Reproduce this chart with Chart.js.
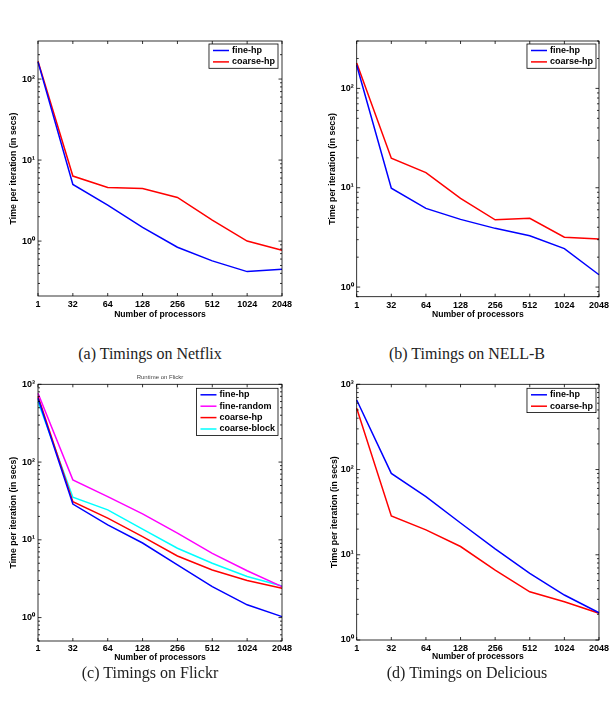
<!DOCTYPE html>
<html>
<head>
<meta charset="utf-8">
<script src="https://cdn.jsdelivr.net/npm/chart.js@4.4.1/dist/chart.umd.min.js"></script>
<style>
  body { margin: 0; background: #fff; }
  #page { position: relative; width: 612px; height: 704px; background: #fff; }
  canvas { position: absolute; }
  .cap { position: absolute; width: 300px; text-align: center; font-family: "Liberation Serif", serif; font-size: 16px; color: #222; }
</style>
</head>
<body>
<div id="page">
  <canvas id="netflix" width="300" height="290" style="left:0;top:30px"></canvas>
  <canvas id="nell" width="312" height="290" style="left:300px;top:30px"></canvas>
  <canvas id="flickr" width="300" height="292" style="left:0;top:373px"></canvas>
  <canvas id="delicious" width="312" height="292" style="left:300px;top:373px"></canvas>
  <div class="cap" style="left:0;top:345px">(a) Timings on Netflix</div>
  <div class="cap" style="left:317px;top:345px">(b) Timings on NELL-B</div>
  <div class="cap" style="left:0;top:664px">(c) Timings on Flickr</div>
  <div class="cap" style="left:317px;top:664px">(d) Timings on Delicious</div>
</div>
<script>
// processors (x categories)
const processors = ['1', '32', '64', '128', '256', '512', '1024', '2048'];

// y tick labels (decades)
const decadeValues = [1, 10, 100, 1000];
const decadeLabels = ['10⁰', '10¹', '10²', '10³'];

// (a) Netflix
const netflixFine = [163, 5.0, 2.78, 1.48, 0.84, 0.57, 0.42, 0.45];
const netflixCoarse = [166, 6.35, 4.6, 4.47, 3.46, 1.82, 1.0, 0.77];

// (b) NELL-B
const nellFine = [171, 9.9, 6.2, 4.8, 3.9, 3.28, 2.44, 1.33];
const nellCoarse = [180, 19.8, 14.2, 7.8, 4.75, 4.93, 3.18, 3.04];

// (c) Flickr
const flickrFine = [660, 28.8, 15.6, 9.1, 4.76, 2.5, 1.46, 1.03];
const flickrRandom = [766, 59, 36, 21.6, 12.2, 6.7, 4.0, 2.5];
const flickrCoarse = [700, 31, 19, 11, 6.2, 4.1, 3.0, 2.39];
const flickrBlock = [597, 35.4, 24.3, 13.7, 7.8, 5.0, 3.37, 2.55];

// (d) Delicious
const deliciousFine = [655, 90, 48, 23.6, 11.7, 6.05, 3.37, 2.09];
const deliciousCoarse = [523, 28.6, 19.6, 12.5, 6.6, 3.68, 2.81, 2.06];

const FONT = '"Liberation Sans", Arial, sans-serif';

function line(label, data, color) {
  return { label: label, data: data, borderColor: color, backgroundColor: color,
    borderWidth: 1.5, pointRadius: 0, tension: 0, fill: false };
}

// box + inward ticks + boxed legend, MATLAB style
const framePlugin = {
  id: 'frame',
  afterDraw(chart, args, opts) {
    const ctx = chart.ctx;
    const a = chart.chartArea;
    const xs = chart.scales.x, ys = chart.scales.y;
    ctx.save();
    ctx.strokeStyle = '#000';
    ctx.lineWidth = 0.8;
    ctx.strokeRect(a.left, a.top, a.right - a.left, a.bottom - a.top);
    ctx.beginPath();
    processors.forEach((p, i) => {
      const x = xs.getPixelForValue(i);
      ctx.moveTo(x, a.bottom); ctx.lineTo(x, a.bottom - 3);
      ctx.moveTo(x, a.top); ctx.lineTo(x, a.top + 3);
    });
    for (let d = 0.1; d <= 1000; d *= 10) {
      for (let m = 1; m < 10; m++) {
        const v = d * m;
        if (v < ys.min || v > ys.max) continue;
        const y = ys.getPixelForValue(v);
        const len = m === 1 ? 3.5 : 2;
        ctx.moveTo(a.left, y); ctx.lineTo(a.left + len, y);
        ctx.moveTo(a.right, y); ctx.lineTo(a.right - len, y);
      }
    }
    ctx.stroke();

    // legend
    const sets = chart.data.datasets;
    ctx.font = 'bold 9px ' + FONT;
    let tw = 0;
    sets.forEach(s => { tw = Math.max(tw, ctx.measureText(s.label).width); });
    const rowH = 11.4;
    const w = tw + 26, h = sets.length * rowH + 1.5;
    const lx = a.right - opts.right - w, ly = a.top + opts.top;
    ctx.fillStyle = '#fff';
    ctx.fillRect(lx, ly, w, h);
    ctx.strokeRect(lx, ly, w, h);
    ctx.textBaseline = 'middle';
    sets.forEach((s, i) => {
      const yy = ly + 6.5 + i * rowH;
      ctx.strokeStyle = s.borderColor;
      ctx.lineWidth = 1.5;
      ctx.beginPath(); ctx.moveTo(lx + 4, yy); ctx.lineTo(lx + 20, yy); ctx.stroke();
      ctx.fillStyle = '#000';
      ctx.fillText(s.label, lx + 23, yy);
    });
    ctx.restore();
  }
};

function makePanel(id, datasets, p) {
  new Chart(document.getElementById(id), {
    type: 'line',
    data: { labels: processors, datasets: datasets },
    plugins: [framePlugin],
    options: {
      responsive: false,
      animation: false,
      devicePixelRatio: 1,
      layout: { padding: p.padding },
      plugins: {
        legend: { display: false },
        tooltip: { enabled: false },
        title: {
          display: !!p.title, text: p.title || '', fullSize: false,
          color: '#444', font: { family: FONT, size: 6, weight: 'normal' },
          padding: { top: 0, bottom: 3.6 }
        },
        frame: p.legend
      },
      scales: {
        x: {
          type: 'category', offset: false,
          grid: { display: false, drawTicks: false }, border: { display: false },
          ticks: { color: '#000', font: { family: FONT, size: 9, weight: 'bold' },
            padding: p.xTickPad, maxRotation: 0, autoSkip: false },
          title: { display: true, text: 'Number of processors', color: '#000',
            font: { family: FONT, size: 8.6, weight: 'bold' }, padding: { top: 0, bottom: p.xTitlePad } },
          afterFit: s => { s.height = p.xHeight; }
        },
        y: {
          type: 'logarithmic', min: p.min, max: p.max,
          grid: { display: false, drawTicks: false }, border: { display: false },
          afterBuildTicks: s => {
            s.ticks = decadeValues.filter(v => v >= p.min && v <= p.max).map(v => ({ value: v, major: true }));
          },
          ticks: { color: '#000', font: { family: FONT, size: 9, weight: 'bold' }, padding: 3,
            callback: v => decadeLabels[decadeValues.indexOf(v)] },
          title: { display: true, text: 'Time per iteration (in secs)', color: '#000',
            font: { family: FONT, size: 8.8, weight: 'bold' }, padding: { top: p.yTitlePad, bottom: 0 } },
          afterFit: s => { s.width = 38; }
        }
      }
    }
  });
}

makePanel('netflix', [
  line('fine-hp', netflixFine, '#0000ff'),
  line('coarse-hp', netflixCoarse, '#ff0000')
], { min: 0.21, max: 295, padding: { left: 0, right: 18, top: 11, bottom: 0 },
  xHeight: 24, xTickPad: 3, xTitlePad: 0.6, yTitlePad: 8, legend: { right: 4, top: 3 } });

makePanel('nell', [
  line('fine-hp', nellFine, '#0000ff'),
  line('coarse-hp', nellCoarse, '#ff0000')
], { min: 0.8, max: 300, padding: { left: 18.7, right: 13, top: 11, bottom: 0 },
  xHeight: 23.3, xTickPad: 3, xTitlePad: 0.6, yTitlePad: 8.5, legend: { right: 3, top: 3 } });

makePanel('flickr', [
  line('fine-hp', flickrFine, '#0000ff'),
  line('fine-random', flickrRandom, '#ff00ff'),
  line('coarse-hp', flickrCoarse, '#ff0000'),
  line('coarse-block', flickrBlock, '#00ffff')
], { min: 0.5, max: 1000, title: 'Runtime on Flickr', padding: { left: 0, right: 18, top: 0.5, bottom: 0 },
  xHeight: 24, xTickPad: 2, xTitlePad: 2, yTitlePad: 8, legend: { right: 4, top: 4 } });

makePanel('delicious', [
  line('fine-hp', deliciousFine, '#0000ff'),
  line('coarse-hp', deliciousCoarse, '#ff0000')
], { min: 1, max: 1000, padding: { left: 18.7, right: 13, top: 11.3, bottom: 0 },
  xHeight: 25, xTickPad: 3, xTitlePad: 3, yTitlePad: 11, legend: { right: 3, top: 4 } });
</script>
</body>
</html>
